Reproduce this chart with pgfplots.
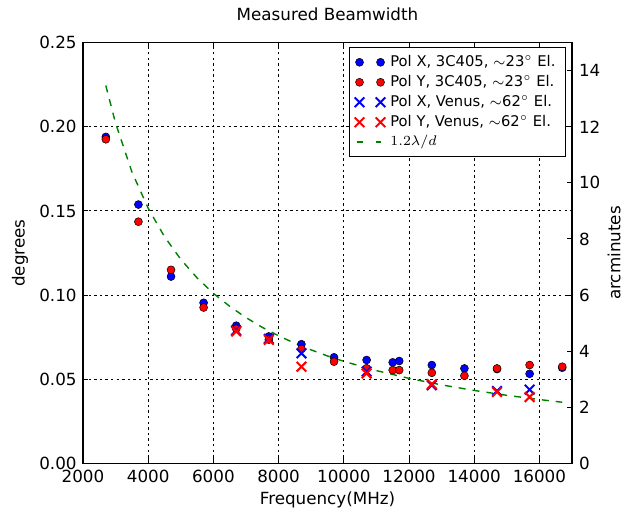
\documentclass[border=0pt]{standalone}
\usepackage{fontspec}
\setmainfont{DejaVu Sans}
\usepackage{pgfplots}
\pgfplotsset{compat=1.18}
\definecolor{mplgreen}{rgb}{0,0.5,0}

\pgfplotsset{
  dotgrid/.style={black, line width=0.5bp, dash pattern=on 1.2bp off 1.6bp},
  twomarks/.style={legend image code/.code={
      \draw[##1, only marks] plot coordinates {(0bp,0bp) (10.5bp,0bp)};}},
}

\begin{document}
\begin{tikzpicture}
\begin{axis}[
    name=main,
    scale only axis,
    width=244.5bp, height=210.3bp,
    xmin=2000, xmax=17000,
    ymin=0, ymax=0.25,
    xtick={2000,4000,...,16000},
    ytick={0,0.05,...,0.25},
    scaled x ticks=false,
    scaled y ticks=false,
    ytick pos=left,
    tick align=inside,
    major tick length=2.5bp,
    axis line style={line width=0.6bp},
    every tick/.style={black, line width=0.5bp},
    grid=major,
    major grid style={dotgrid},
    font=\fontsize{8.4}{10}\selectfont,
    /pgf/number format/assume math mode=true,
    xticklabel style={/pgf/number format/set thousands separator={}, anchor=base, yshift=-9.5bp},
    yticklabel style={/pgf/number format/fixed, /pgf/number format/fixed zerofill,
        /pgf/number format/precision=2, anchor=east, inner sep=0pt, xshift=-3bp},
    every axis title shift=0pt,
    title={Measured Beamwidth},
    title style={at={(axis description cs:0.5,1)}, anchor=base, yshift=11.2bp},
    xlabel={Frequency(MHz)},
    xlabel style={at={(axis description cs:0.5,0)}, anchor=base, yshift=-20.5bp},
    ylabel={degrees},
    ylabel style={at={(axis description cs:0,0.5)}, anchor=center, yshift=31.5bp},
    legend cell align=left,
    legend style={at={(rel axis cs:1,1)}, anchor=north east, xshift=-3bp, yshift=-2bp,
        draw=black, line width=0.5bp, font=\fontsize{7.4}{8.8}\selectfont,
        row sep=1.3bp, inner xsep=2.5bp, inner ysep=3.2bp,
        nodes={inner xsep=2.5bp, inner ysep=0.8bp}},
]
% Pol X, 3C405
\addplot[only marks, mark=*, mark size=2bp, mark options={fill=blue, draw=black, line width=0.25bp}, twomarks]
  coordinates {
  (2700,0.1940) (3700,0.1538) (4700,0.1110) (5700,0.0954) (6700,0.0818)
  (7700,0.0754) (8700,0.0708) (9700,0.0630) (10700,0.0614) (11500,0.0600)
  (11700,0.0608) (12700,0.0584) (13700,0.0564) (14700,0.0560) (15700,0.0532)
  (16700,0.0568)
};
\addlegendentry{Pol X, 3C405, $\sim$23$^\circ$ El.}
% Pol Y, 3C405
\addplot[only marks, mark=*, mark size=2bp, mark options={fill=red, draw=black, line width=0.25bp}, twomarks]
  coordinates {
  (2700,0.1926) (3700,0.1436) (4700,0.1150) (5700,0.0926) (6700,0.0800)
  (7700,0.0735) (8700,0.0680) (9700,0.0604) (10700,0.0565) (11500,0.0554)
  (11700,0.0554) (12700,0.0538) (13700,0.0520) (14700,0.0564) (15700,0.0584)
  (16700,0.0574)
};
\addlegendentry{Pol Y, 3C405, $\sim$23$^\circ$ El.}
% Pol X, Venus
\addplot[only marks, mark=x, mark size=3.4bp, mark options={draw=blue, line width=1bp}, twomarks]
  coordinates {
  (6700,0.0790) (7700,0.0740) (8700,0.0654) (10700,0.0545) (12700,0.0464)
  (14700,0.0430) (15700,0.0438)
};
\addlegendentry{Pol X, Venus, $\sim$62$^\circ$ El.}
% Pol Y, Venus
\addplot[only marks, mark=x, mark size=3.4bp, mark options={draw=red, line width=1bp}, twomarks]
  coordinates {
  (6700,0.0784) (7700,0.0734) (8700,0.0574) (10700,0.0534) (12700,0.0470)
  (14700,0.0424) (15700,0.0394)
};
\addlegendentry{Pol Y, Venus, $\sim$62$^\circ$ El.}
% 1.2 lambda/d, d = 34 m
\addplot[mplgreen, line width=0.7bp, dash pattern=on 3.5bp off 3.5bp, no marks,
  legend image code/.code={\draw[mplgreen, line width=0.7bp, dash pattern=on 3bp off 6.5bp] (-1.5bp,0bp) -- (10.5bp,0bp);}]
  coordinates {
  (2700,0.2245) (3000,0.2021) (3500,0.1732) (4000,0.1516) (4500,0.1347)
  (5000,0.1212) (5500,0.1102) (6000,0.1010) (6500,0.0933) (7000,0.0866)
  (7500,0.0808) (8000,0.0758) (8500,0.0713) (9000,0.0674) (9500,0.0638)
  (10000,0.0606) (11000,0.0551) (12000,0.0505) (13000,0.0466) (14000,0.0433)
  (15000,0.0404) (16000,0.0379) (16700,0.0363)
};
\addlegendentry{$1.2\lambda/d$}
\end{axis}

\begin{axis}[
    scale only axis,
    width=244.5bp, height=210.3bp,
    xmin=2000, xmax=17000,
    ymin=0, ymax=15,
    axis x line=none,
    axis y line*=right,
    ytick={0,2,...,14},
    tick align=inside,
    major tick length=2.5bp,
    axis line style={line width=0.6bp, -},
    every tick/.style={black, line width=0.5bp},
    font=\fontsize{8.4}{10}\selectfont,
    /pgf/number format/assume math mode=true,
    yticklabel style={anchor=west, inner sep=0pt, xshift=3.3bp},
    ylabel={arcminutes},
    ylabel style={at={(axis description cs:1,0.5)}, anchor=center, yshift=-21bp},
]
\end{axis}
\path (-41.5bp,-24.35bp) rectangle (277.5bp,231.65bp);
\end{tikzpicture}
\end{document}
